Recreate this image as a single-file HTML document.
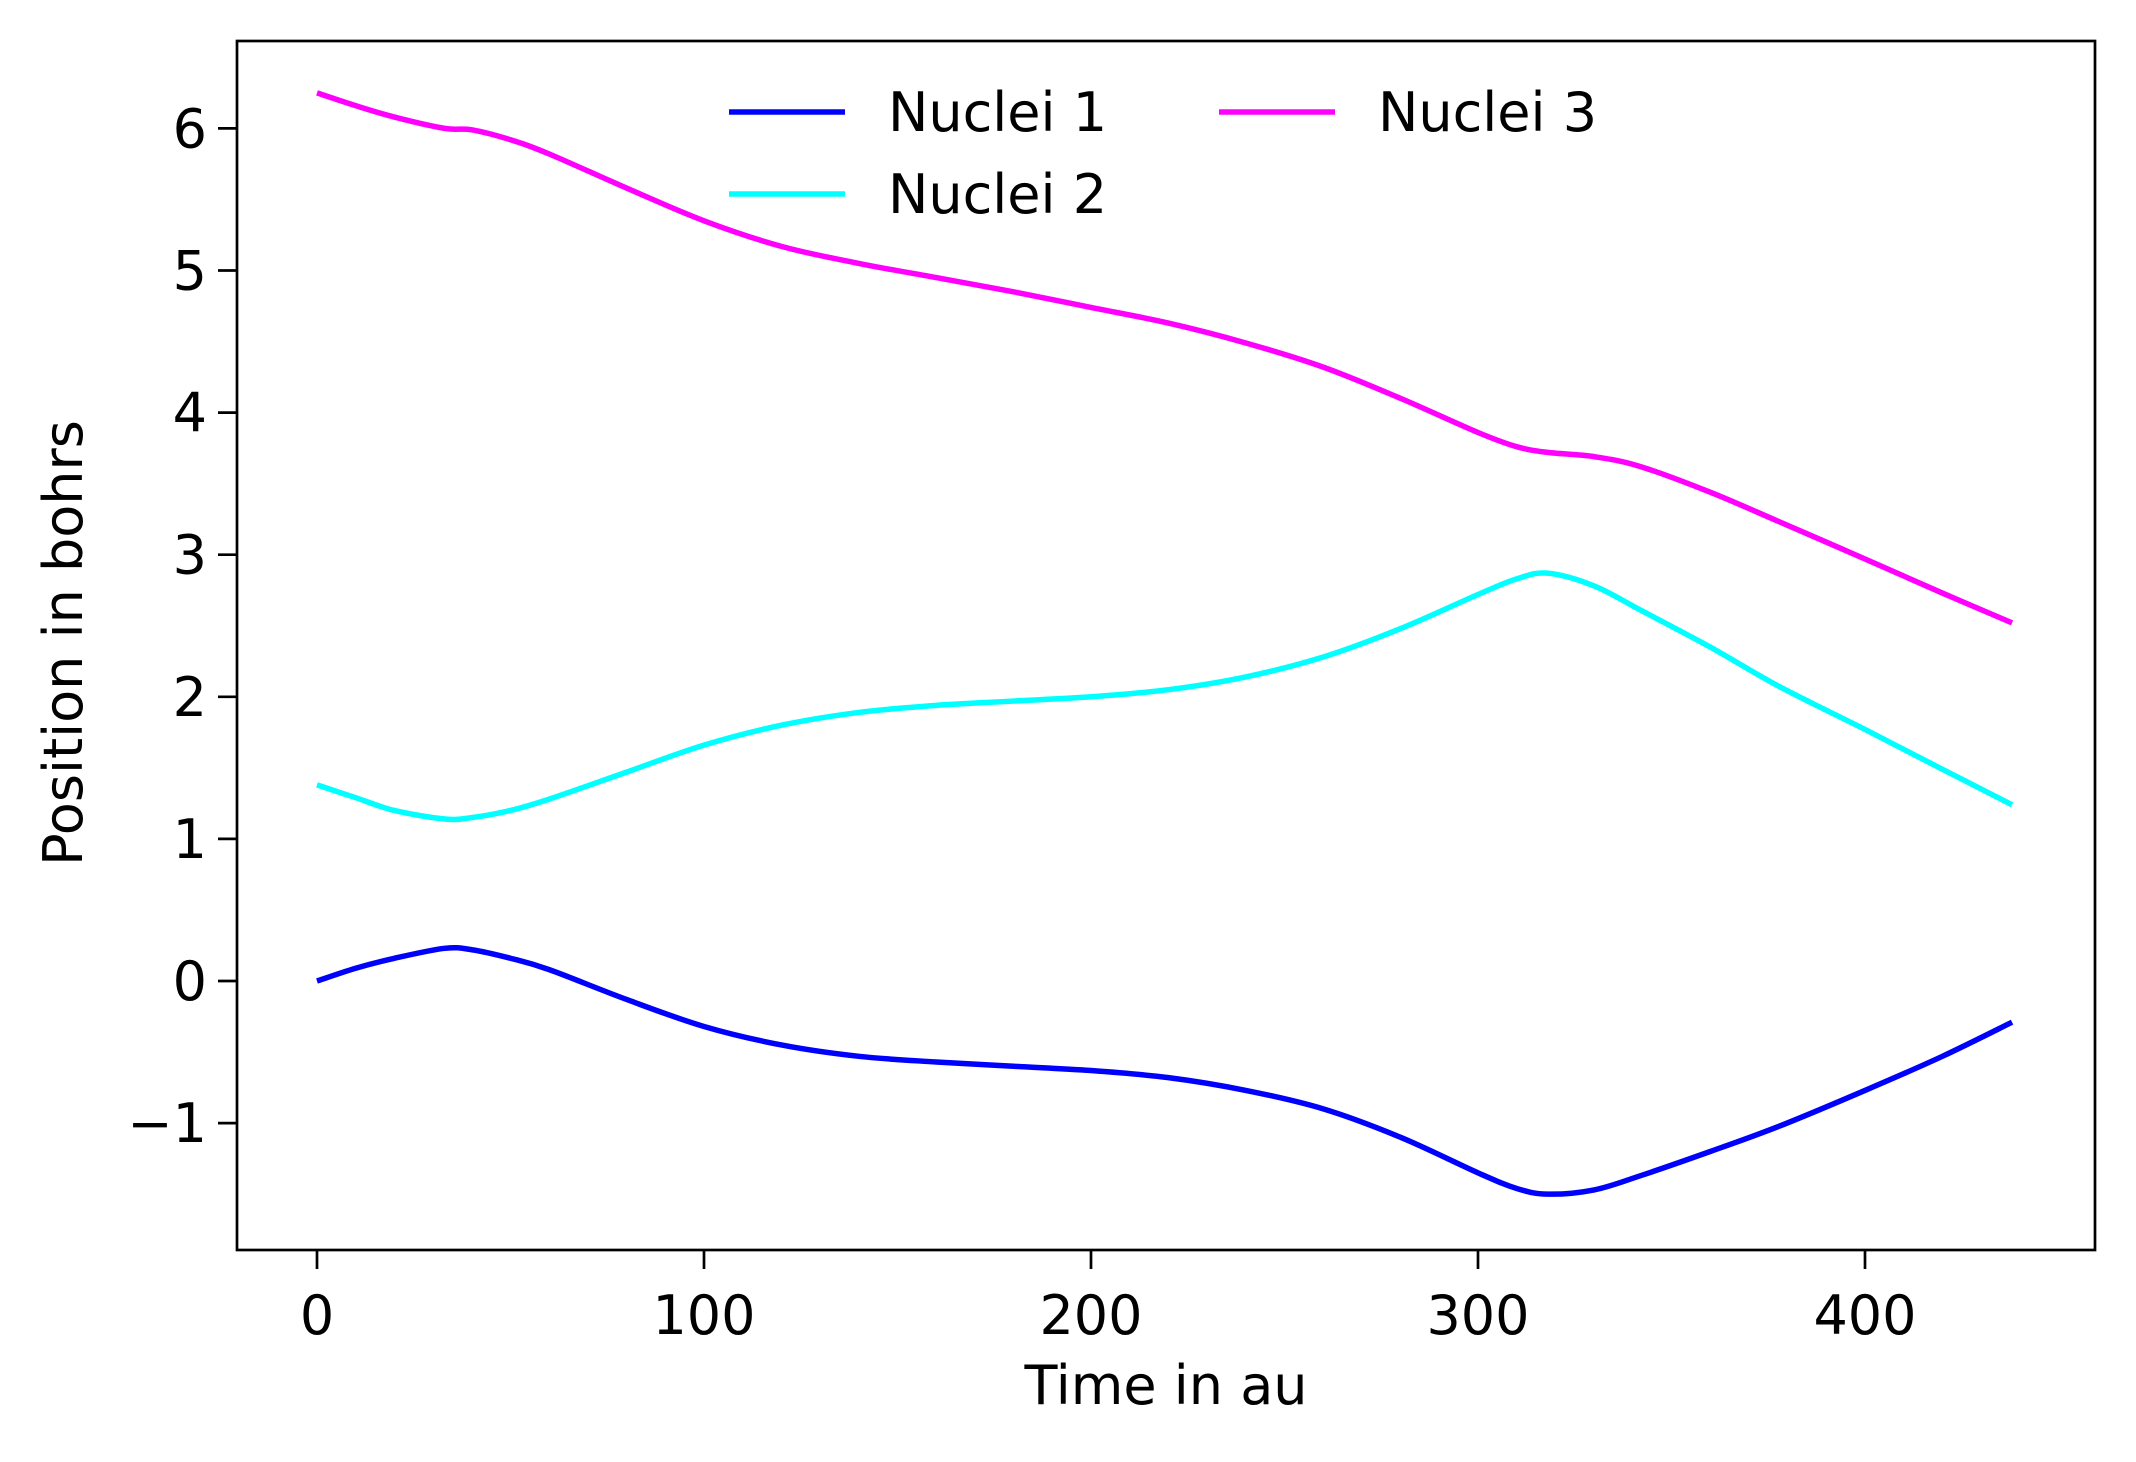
<!DOCTYPE html>
<html><head><meta charset="utf-8"><style>
body{margin:0;background:#fff}
svg text{font-family:"DejaVu Sans","Liberation Sans",sans-serif;fill:#000}
</style></head><body>
<svg width="2136" height="1457" xmlns="http://www.w3.org/2000/svg">
<g id="plot"></g>
</svg>
<script>
const times=[0,10,20,33,40,50,60,80,100,120,140,160,180,200,220,240,260,280,300,310,318,330,342,360,378,400,420,438];
const nuclei1=[0,0.09,0.16,0.23,0.22,0.16,0.08,-0.13,-0.32,-0.45,-0.53,-0.57,-0.6,-0.63,-0.68,-0.77,-0.9,-1.1,-1.35,-1.46,-1.5,-1.47,-1.37,-1.2,-1.02,-0.77,-0.53,-0.29];
const nuclei2=[1.38,1.29,1.2,1.14,1.15,1.2,1.28,1.47,1.66,1.8,1.89,1.94,1.97,2.0,2.05,2.14,2.28,2.48,2.72,2.83,2.87,2.78,2.61,2.35,2.07,1.77,1.49,1.24];
const nuclei3=[6.25,6.16,6.08,6.0,5.99,5.92,5.82,5.58,5.35,5.17,5.05,4.95,4.85,4.74,4.63,4.49,4.32,4.1,3.86,3.76,3.72,3.69,3.62,3.44,3.23,2.97,2.73,2.52];
const xTicks=[0,100,200,300,400];
const yTicks=[-1,0,1,2,3,4,5,6];
const L=237,R=2095,T=41,B=1250;
const X=v=>317+v*3.87;
const Y=v=>981-v*142.1;
const g=document.getElementById('plot');
const NS='http://www.w3.org/2000/svg';
function mk(t,a){const e=document.createElementNS(NS,t);for(const k in a)e.setAttribute(k,a[k]);g.appendChild(e);return e;}
const series=[[nuclei1,'#0000ff','nuclei-1-line'],[nuclei2,'#00ffff','nuclei-2-line'],[nuclei3,'#ff00ff','nuclei-3-line']];
function pathFor(ys){const p=times.map((t,i)=>[X(t),Y(ys[i])]);let d='M'+p[0][0]+','+p[0][1];
for(let i=0;i<p.length-1;i++){const p0=p[i-1]||p[i],p1=p[i],p2=p[i+1],p3=p[i+2]||p2;
d+=' C'+(p1[0]+(p2[0]-p0[0])/6)+','+(p1[1]+(p2[1]-p0[1])/6)+' '+(p2[0]-(p3[0]-p1[0])/6)+','+(p2[1]-(p3[1]-p1[1])/6)+' '+p2[0]+','+p2[1];}return d;}
for(const s of series){const e=mk('path',{d:pathFor(s[0]),fill:'none',stroke:s[1],'stroke-width':5.5});

}
const fr=mk('rect',{x:L,y:T,width:R-L,height:B-T,fill:'none',stroke:'#000','stroke-width':2.7});


for(const t of xTicks){const l=mk('line',{x1:X(t),x2:X(t),y1:B,y2:B+19,stroke:'#000','stroke-width':2.7});


const tx=mk('text',{x:X(t),y:1334,'text-anchor':'middle','font-size':54});tx.textContent=t;

}
for(const t of yTicks){const l=mk('line',{x1:L-19,x2:L,y1:Y(t),y2:Y(t),stroke:'#000','stroke-width':2.7});


const tx=mk('text',{x:L-30,y:Y(t)+19,'text-anchor':'end','font-size':54});tx.textContent=t<0?'\u2212'+(-t):t;

}
const xl=mk('text',{x:1166,y:1404,'text-anchor':'middle','font-size':54});xl.textContent='Time in au';


const yl=mk('text',{x:0,y:0,'text-anchor':'middle','font-size':54,transform:'translate(82,643) rotate(-90)'});yl.textContent='Position in bohrs';


const leg=[[729,112,'#0000ff','Nuclei 1'],[729,194,'#00ffff','Nuclei 2'],[1219,112,'#ff00ff','Nuclei 3']];
for(const e of leg){const l=mk('line',{x1:e[0],x2:e[0]+116,y1:e[1],y2:e[1],stroke:e[2],'stroke-width':5.5});


const tx=mk('text',{x:e[0]+159,y:e[1]+19,'font-size':54});tx.textContent=e[3];

}
</script>
</body></html>
